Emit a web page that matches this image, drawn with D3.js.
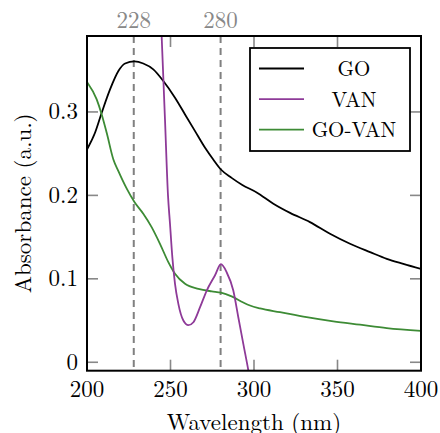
<!DOCTYPE html>
<html>
<head>
<meta charset="utf-8">
<script src="https://cdn.jsdelivr.net/npm/d3@7"></script>
<style>
  html, body { margin: 0; padding: 0; background: #fff; }
  svg { display: block; }
</style>
</head>
<body>
<svg id="chart" width="440" height="433"></svg>
<script>
// ---- data ----
const goWl  = [200, 204.8, 208.8, 213.8, 218.8, 222.8, 228.4, 233.7, 239.7, 245.7, 252.7, 258.7, 264.7, 270.7, 275.6, 280.2, 286.6, 293, 301.6, 311.6, 321.6, 333.5, 345.5, 357.5, 369.5, 379.5, 389.4, 400];
const goAbs = [0.255, 0.275, 0.299, 0.327, 0.349, 0.358, 0.3605, 0.358, 0.351, 0.337, 0.317, 0.297, 0.277, 0.257, 0.243, 0.231, 0.221, 0.2125, 0.2035, 0.190, 0.179, 0.168, 0.154, 0.142, 0.132, 0.124, 0.118, 0.112];

const vanWl  = [240, 244.7, 246.7, 248.5, 249.7, 251.1, 252.7, 254.7, 257.7, 260.7, 263.7, 267.7, 271.7, 276.6, 280.2, 283.6, 287.6, 290.6, 293.6, 296.6, 300];
const vanAbs = [0.62, 0.391, 0.291, 0.2, 0.166, 0.126, 0.094, 0.070, 0.050, 0.0444, 0.048, 0.066, 0.086, 0.104, 0.1175, 0.108, 0.086, 0.054, 0.022, -0.0096, -0.05];

const govanWl  = [200, 205.8, 208.8, 211.8, 215.8, 218.8, 223.8, 228.4, 233.7, 238.7, 243.7, 248.7, 252.7, 258.7, 266.7, 274.7, 280.2, 286.6, 293.6, 297.6, 303.6, 315.6, 331.5, 347.5, 363.5, 379.5, 400];
const govanAbs = [0.336, 0.315, 0.297, 0.275, 0.243, 0.229, 0.208, 0.192, 0.178, 0.162, 0.142, 0.120, 0.106, 0.094, 0.088, 0.085, 0.0835, 0.079, 0.0716, 0.068, 0.0645, 0.060, 0.054, 0.049, 0.045, 0.041, 0.0375];

const xTicks = [200, 250, 300, 350, 400];
const yTicks = [0, 0.1, 0.2, 0.3];
const markers = [228, 280];
const seriesNames = ["GO", "VAN", "GO-VAN"];
const seriesColors = ["#000000", "#8e3a98", "#3d8b35"];

// ---- layout ----
const FONT = '"Latin Modern Roman", "Liberation Serif", serif';
const L = 87, R = 421, T = 36, B = 370.7;
const svg = d3.select("#chart");
const x = d3.scaleLinear().domain([200, 400]).range([L, R]);
const y = d3.scaleLinear().domain([-0.0101, 0.391]).range([B, T]);

function txt(sel) { return sel.append("text").style("font-family", FONT); }

svg.append("defs").append("clipPath").attr("id", "clip")
  .append("rect").attr("x", L).attr("y", T).attr("width", R - L).attr("height", B - T);

const tickColor = "#888888";
const TL = 11;

// ticks (inward, all four sides)
const gT = svg.append("g");
xTicks.forEach(v => {
  gT.append("line").attr("x1", x(v)).attr("x2", x(v)).attr("y1", B).attr("y2", B - TL)
    .attr("stroke", tickColor).attr("stroke-width", 1.6);
  gT.append("line").attr("x1", x(v)).attr("x2", x(v)).attr("y1", T).attr("y2", T + TL)
    .attr("stroke", tickColor).attr("stroke-width", 1.6);
});
yTicks.forEach(v => {
  gT.append("line").attr("x1", L).attr("x2", L + TL).attr("y1", y(v)).attr("y2", y(v))
    .attr("stroke", tickColor).attr("stroke-width", 1.6);
  gT.append("line").attr("x1", R).attr("x2", R - TL).attr("y1", y(v)).attr("y2", y(v))
    .attr("stroke", tickColor).attr("stroke-width", 1.6);
});

// dashed marker lines
markers.forEach(m => {
  svg.append("line").attr("x1", x(m)).attr("x2", x(m)).attr("y1", T).attr("y2", B)
    .attr("stroke", "#808080").attr("stroke-width", 2).attr("stroke-dasharray", "7,5");
  txt(svg).attr("x", x(m)).attr("y", 28).attr("text-anchor", "middle")
    .attr("fill", "#888888").style("font-size", "23px").text(m);
});

// curves
const data = [
  goWl.map((w, i) => [w, goAbs[i]]),
  vanWl.map((w, i) => [w, vanAbs[i]]),
  govanWl.map((w, i) => [w, govanAbs[i]])
];
const line = d3.line().x(d => x(d[0])).y(d => y(d[1])).curve(d3.curveMonotoneX);
const gC = svg.append("g").attr("clip-path", "url(#clip)");
[0, 2, 1].forEach(i => {
  gC.append("path").attr("d", line(data[i])).attr("fill", "none")
    .attr("stroke", seriesColors[i]).attr("stroke-width", 1.8);
});

// frame
svg.append("rect").attr("x", L).attr("y", T).attr("width", R - L).attr("height", B - T)
  .attr("fill", "none").attr("stroke", "#000").attr("stroke-width", 2);

// tick labels
xTicks.forEach(v => {
  txt(svg).attr("x", x(v)).attr("y", 397).attr("text-anchor", "middle")
    .style("font-size", "23px").attr("fill", "#000").text(v);
});
yTicks.forEach(v => {
  txt(svg).attr("x", 78).attr("y", y(v) + 7.5).attr("text-anchor", "end")
    .style("font-size", "23px").attr("fill", "#000").text(v === 0 ? "0" : d3.format(".1f")(v));
});

// axis labels
txt(svg).attr("x", (L + R) / 2).attr("y", 430).attr("text-anchor", "middle")
  .style("font-size", "23px").text("Wavelength (nm)");
txt(svg).attr("transform", `translate(31,${(T + B) / 2}) rotate(-90)`)
  .attr("text-anchor", "middle").style("font-size", "23px")
  .text("Absorbance (a.u.)");

// legend
const lg = svg.append("g");
lg.append("rect").attr("x", 250).attr("y", 48).attr("width", 160).attr("height", 103)
  .attr("fill", "#fff").attr("stroke", "#000").attr("stroke-width", 1.8);
seriesNames.forEach((n, i) => {
  const cy = 68.5 + i * 30.6;
  lg.append("line").attr("x1", 259).attr("x2", 304).attr("y1", cy).attr("y2", cy)
    .attr("stroke", seriesColors[i]).attr("stroke-width", 1.8);
  txt(lg).attr("x", 354).attr("y", cy + 7.5).attr("text-anchor", "middle")
    .style("font-size", "21px").text(n);
});
</script>
</body>
</html>
